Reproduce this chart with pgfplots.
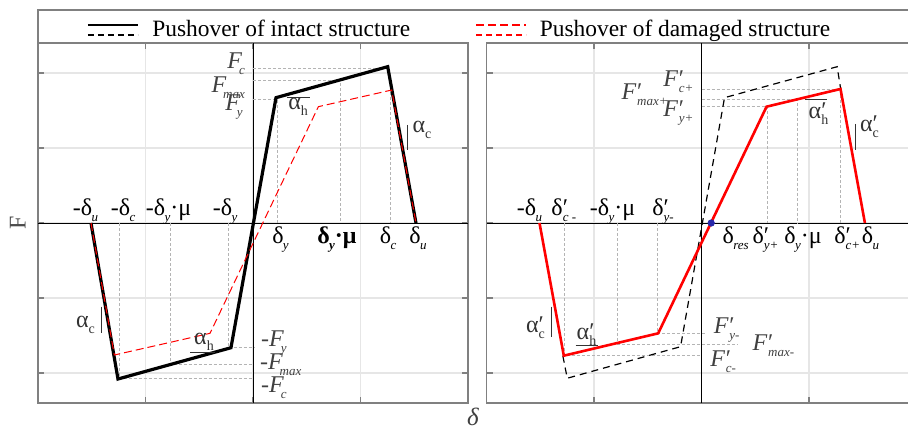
\documentclass[border=0pt]{standalone}
\usepackage{pgfplots}
\pgfplotsset{compat=1.18}
\usepackage{fontspec}
\setmainfont{Liberation Serif}

\definecolor{framegray}{RGB}{128,128,128}
\definecolor{guidegray}{RGB}{180,180,180}
\definecolor{gridgray}{RGB}{230,230,230}
\definecolor{resblue}{RGB}{40,40,170}

% small low subscripts, and a prime stacked over a subscript
\newcommand{\sbi}[1]{\kern-0.3pt\raisebox{-0.55ex}{\fontsize{6.5}{7}\selectfont\itshape #1}}
\newcommand{\sbu}[1]{\raisebox{-0.55ex}{\fontsize{7}{8}\selectfont #1}}
\newcommand{\prsb}[1]{\rlap{′}\raisebox{-0.55ex}{\fontsize{6.5}{7}\selectfont\itshape #1}}
\newcommand{\prsbu}[1]{\rlap{′}\raisebox{-0.55ex}{\fontsize{7}{8}\selectfont #1}}
\newcommand{\F}{{\itshape F}\kern-1.2pt}
\newcommand{\Fp}{{\itshape F}\kern0.4pt}
\newcommand{\lf}{\fontsize{12}{14}\selectfont}

\pgfplotsset{
  panel/.style={
    x=53.75pt, y=37.5pt,
    xmin=-2, xmax=2, ymin=-2.4, ymax=2.4,
    xtick={-1,0,1}, ytick={-2,-1,0,1,2},
    xticklabels={}, yticklabels={},
    grid=major, major grid style={gridgray, line width=0.6pt},
    axis line style={framegray, line width=0.9pt},
    tick style={framegray, line width=0.6pt},
    major tick length=3pt,
    clip=false,
  },
  guide/.style={guidegray, dash pattern=on 1.5pt off 1pt, line width=0.4pt, forget plot},
  zero/.style={black, line width=0.5pt, forget plot},
  bar/.style={black!80, line width=0.5pt, forget plot},
}

\begin{document}
\begin{tikzpicture}
\useasboundingbox (-19pt,-13pt) rectangle (435pt,201.5pt);
% legend frame
\draw[framegray, line width=0.6pt] (0pt,180pt) -- (0pt,196.5pt) -- (440pt,196.5pt);

%---------------- left panel: intact structure ----------------
\begin{axis}[panel, at={(0pt,0pt)}, anchor=south west,
  ylabel={F}, ylabel style={at={(axis description cs:-0.047,0.5)}, anchor=center, font=\fontsize{12}{14}\selectfont, text=black!70},
  legend columns=2,
  legend cell align=left,
  legend style={draw=none, fill=none, at={(axis cs:-1.55,2.575)}, anchor=west,
    font=\fontsize{11.7}{14}\selectfont, inner sep=0pt,
    /tikz/every even column/.append style={column sep=30.5pt}},
]
\addplot[zero] coordinates {(-2,0) (2,0)};
\addplot[zero] coordinates {(0,-2.4) (0,2.4)};
% guide lines
\addplot[guide] coordinates {(0,2.06) (1.253,2.06)};
\addplot[guide] coordinates {(0,1.907) (0.809,1.907) (0.809,0)};
\addplot[guide] coordinates {(0,1.65) (0.226,1.65) (0.226,0)};
\addplot[guide] coordinates {(1.28,1.95) (1.28,0)};
\addplot[guide] coordinates {(-1.244,0) (-1.244,-2.076) (0,-2.076)};
\addplot[guide] coordinates {(-0.772,0) (-0.772,-1.884) (0,-1.884)};
\addplot[guide] coordinates {(-0.23,0) (-0.23,-1.663) (0.02,-1.663)};
% curves
\addplot[black, line width=1.6pt,
  legend image code/.code={
    \draw[black, line width=1pt] (0pt,2.5pt) -- (25pt,2.5pt);
    \draw[black, line width=0.8pt, dash pattern=on 3pt off 2pt] (0pt,-2.5pt) -- (25pt,-2.5pt);
    \path (29.5pt,0pt);}]
  coordinates {(-1.507,0) (-1.256,-2.08) (-0.205,-1.663) (0.214,1.671) (1.253,2.084) (1.516,0)};
\addlegendentry{Pushover of intact structure}
\addplot[red, line width=0.5pt, dash pattern=on 4pt off 2pt,
  legend image code/.code={
    \draw[red, line width=1pt] (0pt,2.5pt) -- (25pt,2.5pt);
    \draw[red, line width=0.8pt, dash pattern=on 3pt off 2pt] (0pt,-2.5pt) -- (25pt,-2.5pt);
    \path (29.5pt,0pt);}]
  coordinates {(-1.507,0) (-1.29,-1.76) (-0.40,-1.471) (0.608,1.551) (1.29,1.773) (1.516,0)};
\addlegendentry{Pushover of damaged structure}
% slope marks
\addplot[bar] coordinates {(0.316,1.67) (0.53,1.67)};
\addplot[bar] coordinates {(1.433,1.307) (1.433,0.973)};
\addplot[bar] coordinates {(-1.407,-1.116) (-1.407,-1.471)};
\addplot[bar] coordinates {(-0.586,-1.724) (-0.353,-1.724)};
% labels
\begin{scope}[every node/.append style={font=\lf}]
\node[anchor=base] at (axis cs:-1.558,0.1) {-δ\sbi{u}};
\node[anchor=base] at (axis cs:-1.209,0.1) {-δ\sbi{c}};
\node[anchor=base] at (axis cs:-0.786,0.1) {-δ\sbi{y}·μ};
\node[anchor=base] at (axis cs:-0.26,0.1) {-δ\sbi{y}};
\node[anchor=base] at (axis cs:0.256,-0.27) {δ\sbi{y}};
\node[anchor=base] at (axis cs:0.781,-0.27) {\bfseries δ\sbi{y}·μ};
\node[anchor=base] at (axis cs:1.256,-0.27) {δ\sbi{c}};
\node[anchor=base] at (axis cs:1.535,-0.27) {δ\sbi{u}};
\node[anchor=east, text=black!75] at (axis cs:-0.01,2.13) {\F\sbi{c}};
\node[anchor=east, text=black!75] at (axis cs:-0.01,1.81) {\F\sbi{max}};
\node[anchor=east, text=black!75] at (axis cs:-0.03,1.55) {\F\sbi{y}};
\node[anchor=west, text=black!75] at (axis cs:0.01,-1.604) {-\F\sbi{y}};
\node[anchor=west, text=black!75] at (axis cs:0.0,-1.893) {-\F\sbi{max}};
\node[anchor=west, text=black!75] at (axis cs:0.01,-2.196) {-\F\sbi{c}};
\node[text=black!80] at (axis cs:0.42,1.55) {α\sbu{h}};
\node[text=black!80] at (axis cs:1.572,1.24) {α\sbu{c}};
\node[text=black!80] at (axis cs:-1.558,-1.36) {α\sbu{c}};
\node[text=black!80] at (axis cs:-0.456,-1.582) {α\sbu{h}};
\node[font=\fontsize{12.5}{14}\selectfont, text=black!75] at (axis cs:2.047,-2.587) {\textit{δ}};
\end{scope}
\end{axis}

%---------------- right panel: damaged structure ----------------
\begin{axis}[panel, at={(224.25pt,0pt)}, anchor=south west]
\addplot[zero] coordinates {(-2,0) (2,0)};
\addplot[zero] coordinates {(0,-2.4) (0,2.4)};
% guide lines
\addplot[guide] coordinates {(0,1.787) (1.293,1.787) (1.293,0)};
\addplot[guide] coordinates {(0,1.65) (0.896,1.65) (0.896,0)};
\addplot[guide] coordinates {(0,1.551) (0.611,1.551) (0.611,0)};
\addplot[guide] coordinates {(-1.28,0) (-1.28,-1.76) (0,-1.76)};
\addplot[guide] coordinates {(-0.779,0) (-0.779,-1.613) (0.33,-1.613)};
\addplot[guide] coordinates {(-0.41,0) (-0.41,-1.471) (0.05,-1.471)};
% curves
\addplot[black, line width=0.6pt, dash pattern=on 3.5pt off 2.5pt, forget plot]
  coordinates {(-1.29,-1.77) (-1.249,-2.07) (-0.195,-1.649) (0.214,1.671) (1.262,2.084) (1.293,1.80)};
\addplot[red, line width=1.3pt, forget plot]
  coordinates {(-1.507,0) (-1.281,-1.769) (-0.403,-1.471) (0.605,1.551) (1.293,1.787) (1.52,0)};
\addplot[only marks, mark=*, mark size=1.6pt, resblue, forget plot] coordinates {(0.09,0)};
% slope marks
\addplot[bar] coordinates {(0.958,1.653) (1.169,1.653)};
\addplot[bar] coordinates {(1.433,1.32) (1.433,0.973)};
\addplot[bar] coordinates {(-1.398,-1.116) (-1.398,-1.516)};
\addplot[bar] coordinates {(-1.172,-1.636) (-0.965,-1.636)};
% labels
\begin{scope}[every node/.append style={font=\lf}]
\node[anchor=base] at (axis cs:-1.6,0.1) {-δ\sbi{u}};
\node[anchor=base] at (axis cs:-1.281,0.1) {δ\prsb{c -}};
\node[anchor=base] at (axis cs:-0.828,0.1) {-δ\sbi{y}·μ};
\node[anchor=base] at (axis cs:-0.358,0.1) {δ\prsb{y-}};
\node[anchor=base west] at (axis cs:0.13,-0.27) {δ\sbi{res}};
\node[anchor=base] at (axis cs:0.595,-0.27) {δ\prsb{y+}};
\node[anchor=base] at (axis cs:0.944,-0.27) {δ\sbi{y}·μ};
\node[anchor=base] at (axis cs:1.355,-0.27) {δ\prsb{c+}};
\node[anchor=base] at (axis cs:1.572,-0.27) {δ\sbi{u}};
\node[anchor=east, text=black!75] at (axis cs:-0.01,1.88) {\Fp\prsb{c+}};
\node[anchor=east, text=black!75] at (axis cs:-0.25,1.707) {\Fp\prsb{max+}};
\node[anchor=east, text=black!75] at (axis cs:-0.01,1.467) {\Fp\prsb{y+}};
\node[anchor=west, text=black!75] at (axis cs:0.05,-1.427) {\Fp\prsb{y-}};
\node[anchor=west, text=black!75] at (axis cs:0.41,-1.64) {\Fp\prsb{max-}};
\node[anchor=west, text=black!75] at (axis cs:0.016,-1.849) {\Fp\prsb{c-}};
\node[text=black!80] at (axis cs:1.088,1.462) {α\prsbu{h}};
\node[text=black!80] at (axis cs:1.563,1.28) {α\prsbu{c}};
\node[text=black!80] at (axis cs:-1.544,-1.4) {α\prsbu{c}};
\node[text=black!80] at (axis cs:-1.07,-1.493) {α\prsbu{h}};
\end{scope}
\end{axis}
\end{tikzpicture}
\end{document}
